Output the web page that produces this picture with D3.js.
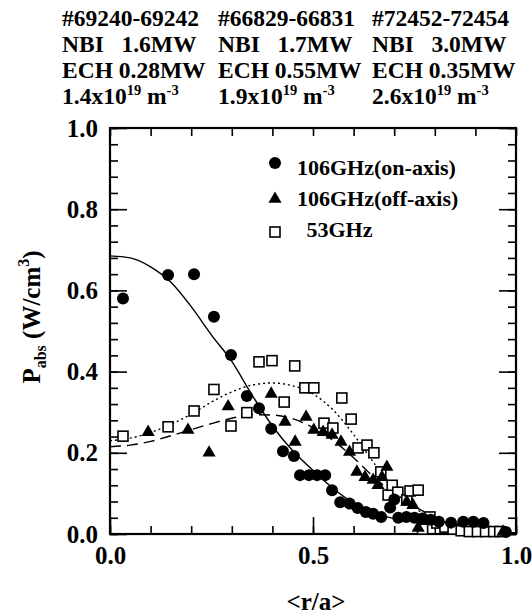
<!DOCTYPE html>
<html>
<head>
<meta charset="utf-8">
<script src="https://cdn.jsdelivr.net/npm/d3@7"></script>
<style>
  body { margin: 0; background: #fff; }
  svg { font-family: "Liberation Serif", "Times New Roman", serif; font-weight: bold; }
</style>
</head>
<body>
<svg width="532" height="616"></svg>
<script>
// measured points, (r/a, Pabs)
const onAxis = [
  [0.032, 0.580], [0.143, 0.638], [0.207, 0.640], [0.256, 0.535], [0.298, 0.441],
  [0.337, 0.340], [0.367, 0.310], [0.397, 0.259], [0.426, 0.204], [0.453, 0.192],
  [0.468, 0.145], [0.490, 0.145], [0.510, 0.145], [0.530, 0.145], [0.547, 0.108],
  [0.567, 0.078], [0.590, 0.075], [0.610, 0.064], [0.630, 0.054], [0.648, 0.050],
  [0.668, 0.042], [0.690, 0.065], [0.700, 0.085], [0.710, 0.040], [0.730, 0.042],
  [0.750, 0.040], [0.770, 0.038], [0.790, 0.035], [0.810, 0.030], [0.840, 0.028],
  [0.870, 0.030], [0.895, 0.030], [0.920, 0.027], [0.975, 0.005]
];
const offAxis = [
  [0.094, 0.251], [0.192, 0.256], [0.244, 0.200], [0.291, 0.314], [0.397, 0.345],
  [0.431, 0.276], [0.456, 0.227], [0.483, 0.288], [0.502, 0.256], [0.525, 0.251],
  [0.547, 0.244], [0.569, 0.227], [0.590, 0.202], [0.608, 0.153], [0.628, 0.140],
  [0.648, 0.133], [0.660, 0.120], [0.670, 0.140], [0.682, 0.165], [0.731, 0.079],
  [0.746, 0.071], [0.759, 0.015], [0.968, 0.005]
];
const ghz53 = [
  [0.032, 0.241], [0.143, 0.264], [0.207, 0.303], [0.256, 0.356], [0.298, 0.266],
  [0.337, 0.299], [0.367, 0.424], [0.399, 0.427], [0.429, 0.325], [0.455, 0.414],
  [0.480, 0.360], [0.502, 0.360], [0.527, 0.273], [0.549, 0.261], [0.571, 0.335],
  [0.594, 0.283], [0.611, 0.212], [0.633, 0.219], [0.650, 0.200], [0.667, 0.153],
  [0.685, 0.096], [0.695, 0.120], [0.709, 0.103], [0.731, 0.084], [0.739, 0.106],
  [0.759, 0.108], [0.770, 0.012], [0.788, 0.042], [0.805, 0.027], [0.825, 0.017],
  [0.845, 0.012], [0.865, 0.008], [0.885, 0.006], [0.905, 0.006], [0.925, 0.006],
  [0.945, 0.006], [0.960, 0.006]
];

// fitted profiles
const fitOn = [
  [0, 0.685], [0.05, 0.680], [0.1, 0.658], [0.15, 0.620], [0.2, 0.560], [0.25, 0.490],
  [0.3, 0.425], [0.35, 0.342], [0.4, 0.266], [0.45, 0.205], [0.5, 0.157], [0.55, 0.112],
  [0.6, 0.076], [0.65, 0.052], [0.7, 0.038], [0.75, 0.030], [0.8, 0.022], [0.85, 0.016],
  [0.9, 0.010], [0.95, 0.006], [1.0, 0.003]
];
const fitOff = [
  [0, 0.215], [0.05, 0.219], [0.1, 0.228], [0.15, 0.242], [0.2, 0.257], [0.25, 0.272],
  [0.3, 0.285], [0.35, 0.294], [0.4, 0.293], [0.45, 0.284], [0.5, 0.262], [0.55, 0.230],
  [0.6, 0.188], [0.65, 0.140], [0.7, 0.100], [0.75, 0.068], [0.8, 0.042], [0.85, 0.025],
  [0.9, 0.014], [0.95, 0.007], [1.0, 0.003]
];
const fit53 = [
  [0, 0.230], [0.05, 0.236], [0.1, 0.250], [0.15, 0.270], [0.2, 0.295], [0.25, 0.325],
  [0.3, 0.350], [0.35, 0.367], [0.4, 0.372], [0.45, 0.365], [0.5, 0.345], [0.55, 0.305],
  [0.6, 0.245], [0.65, 0.175], [0.7, 0.110], [0.75, 0.065], [0.8, 0.035], [0.85, 0.018],
  [0.9, 0.009], [0.95, 0.005], [1.0, 0.003]
];

const yMajor = [0, 0.2, 0.4, 0.6, 0.8, 1.0];
const yMinor = d3.range(0, 1.0001, 0.04);
const xMajor = [0, 0.5, 1.0];
const xMinor = d3.range(0, 1.0001, 0.1);

const headerCols = [
  ["#69240-69242", "NBI   1.6MW", "ECH 0.28MW", ["1.4x10", "19", " m", "-3"]],
  ["#66829-66831", "NBI   1.7MW", "ECH 0.55MW", ["1.9x10", "19", " m", "-3"]],
  ["#72452-72454", "NBI   3.0MW", "ECH 0.35MW", ["2.6x10", "19", " m", "-3"]]
];
const legendLabels = ["106GHz(on-axis)", "106GHz(off-axis)", " 53GHz"];

const margin = {top: 128, right: 16, bottom: 82, left: 110};
const width = 532 - margin.left - margin.right;
const height = 616 - margin.top - margin.bottom;

const root = d3.select("svg");
const svg = root.append("g")
    .attr("transform", `translate(${margin.left},${margin.top})`);

const x = d3.scaleLinear().domain([0, 1]).range([0, width]);
const y = d3.scaleLinear().domain([0, 1]).range([height, 0]);

// header block
const colX = [62, 218, 372];
const lineY = [26, 52, 78, 104];
headerCols.forEach((col, i) => {
  col.forEach((line, j) => {
    const t = root.append("text")
        .attr("x", colX[i]).attr("y", lineY[j])
        .attr("font-size", 23.5)
        .attr("xml:space", "preserve")
        .style("white-space", "pre");
    if (Array.isArray(line)) {
      t.append("tspan").text(line[0]);
      t.append("tspan").attr("font-size", 14.5).attr("dy", -9).text(line[1]);
      t.append("tspan").attr("dy", 9).text(line[2]);
      t.append("tspan").attr("font-size", 14.5).attr("dy", -9).text(line[3]);
    } else {
      t.text(line);
    }
  });
});

// ticks: major + minor on all four sides, pointing inward
const tickStyle = g => {
  g.select(".domain").remove();
  g.selectAll(".tick line").attr("stroke", "#000").attr("stroke-width", 1.6);
};
svg.append("g").call(d3.axisLeft(y).tickValues(yMinor).tickSize(-8).tickFormat(""))
    .call(tickStyle);
svg.append("g").call(d3.axisLeft(y).tickValues(yMajor).tickSize(-17).tickPadding(12)
    .tickFormat(d3.format(".1f")))
    .call(tickStyle)
    .selectAll("text").attr("font-size", 25).attr("fill", "#000")
    .attr("font-family", "Liberation Serif").attr("font-weight", "bold");
svg.append("g").attr("transform", `translate(${width},0)`)
    .call(d3.axisRight(y).tickValues(yMinor).tickSize(-8).tickFormat(""))
    .call(tickStyle);
svg.append("g").attr("transform", `translate(${width},0)`)
    .call(d3.axisRight(y).tickValues(yMajor).tickSize(-17).tickFormat(""))
    .call(tickStyle);
svg.append("g").attr("transform", `translate(0,${height})`)
    .call(d3.axisBottom(x).tickValues(xMinor).tickSize(-8).tickFormat(""))
    .call(tickStyle);
svg.append("g").attr("transform", `translate(0,${height})`)
    .call(d3.axisBottom(x).tickValues(xMajor).tickSize(-17).tickPadding(12)
    .tickFormat(d3.format(".1f")))
    .call(tickStyle)
    .selectAll("text").attr("font-size", 25).attr("fill", "#000")
    .attr("font-family", "Liberation Serif").attr("font-weight", "bold");
svg.append("g")
    .call(d3.axisTop(x).tickValues(xMinor).tickSize(-8).tickFormat(""))
    .call(tickStyle);

svg.append("rect")
    .attr("width", width).attr("height", height)
    .attr("fill", "none").attr("stroke", "#000").attr("stroke-width", 2.2);

// fit curves
const line = d3.line().x(d => x(d[0])).y(d => y(d[1])).curve(d3.curveMonotoneX);
svg.append("path").datum(fitOn).attr("d", line)
    .attr("fill", "none").attr("stroke", "#000").attr("stroke-width", 1.4);
svg.append("path").datum(fitOff).attr("d", line)
    .attr("fill", "none").attr("stroke", "#000").attr("stroke-width", 1.4)
    .attr("stroke-dasharray", "11,6");
svg.append("path").datum(fit53).attr("d", line)
    .attr("fill", "none").attr("stroke", "#000").attr("stroke-width", 1.4)
    .attr("stroke-dasharray", "2,3");

// markers
const tri = d3.symbol().type(d3.symbolTriangle).size(75);
svg.selectAll(".sq").data(ghz53).enter().append("rect").attr("class", "sq")
    .attr("x", d => x(d[0]) - 5).attr("y", d => y(d[1]) - 5)
    .attr("width", 10).attr("height", 10)
    .attr("fill", "#fff").attr("stroke", "#000").attr("stroke-width", 1.6);
svg.selectAll(".tri").data(offAxis).enter().append("path").attr("class", "tri")
    .attr("d", tri)
    .attr("transform", d => `translate(${x(d[0])},${y(d[1])})`)
    .attr("fill", "#000");
svg.selectAll(".dot").data(onAxis).enter().append("circle").attr("class", "dot")
    .attr("cx", d => x(d[0])).attr("cy", d => y(d[1])).attr("r", 6)
    .attr("fill", "#000");

// legend
const leg = root.append("g");
leg.append("circle").attr("cx", 275).attr("cy", 163).attr("r", 6).attr("fill", "#000");
leg.append("path").attr("d", tri).attr("transform", "translate(275,199)").attr("fill", "#000");
leg.append("rect").attr("x", 270).attr("y", 227).attr("width", 10).attr("height", 10)
    .attr("fill", "#fff").attr("stroke", "#000").attr("stroke-width", 1.6);
const legY = [175, 206, 237];
legendLabels.forEach((s, i) => {
  leg.append("text").attr("x", i === 2 ? 301 : 297).attr("y", legY[i])
      .attr("font-size", 22).attr("xml:space", "preserve").style("white-space", "pre")
      .text(s);
});

// axis titles
root.append("text")
    .attr("x", 316).attr("y", 610)
    .attr("text-anchor", "middle").attr("font-size", 25)
    .text("<r/a>");
const yt = root.append("text")
    .attr("transform", "translate(40,317) rotate(-90)")
    .attr("text-anchor", "middle").attr("font-size", 25);
yt.append("tspan").text("P");
yt.append("tspan").attr("font-size", 16).attr("dy", 6).text("abs");
yt.append("tspan").attr("dy", -6).text(" (W/cm");
yt.append("tspan").attr("font-size", 16).attr("dy", -11).text("3");
yt.append("tspan").attr("dy", 11).text(")");
</script>
</body>
</html>
